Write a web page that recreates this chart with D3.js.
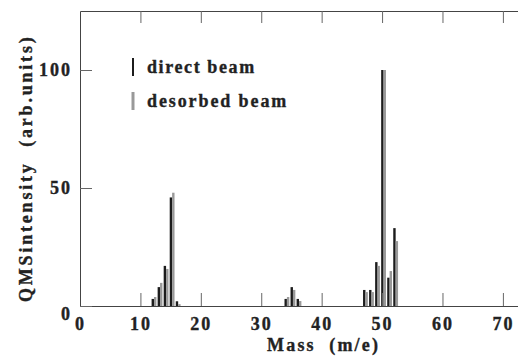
<!DOCTYPE html>
<html>
<head>
<meta charset="utf-8">
<script src="https://cdn.jsdelivr.net/npm/d3@7"></script>
<style>
    body { margin: 0; background: #fff; }
    text { font-family: "Liberation Serif", "DejaVu Serif", serif; font-weight: bold; fill: #222; stroke: #222; stroke-width: 0.35px; }
</style>
</head>
<body>
<svg id="chart"></svg>
<script>
// mass peaks (m/e) and intensities
var masses = [12, 13, 14, 15, 16, 34, 35, 36, 47, 48, 49, 50, 51, 52];
var directBeam = [3, 8, 17, 46, 2, 3, 8, 3, 6.8, 6.8, 18.6, 100, 12, 33];
var desorbedBeam = [3.8, 9.8, 15.7, 48, 0.8, 3.8, 6.8, 2.1, 5.9, 5.9, 17, 100, 14.8, 27.5];

var xTicks = [0, 10, 20, 30, 40, 50, 60, 70];
var yTicks = [0, 50, 100];
var seriesNames = ["direct beam", "desorbed beam"];
var seriesColors = ["#1c1c1c", "#999999"];

var width = 518,
    height = 356;

var x = d3.scaleLinear().domain([0, 72.5]).range([80, 518]);
var y = d3.scaleLinear().domain([0, 125]).range([306, 11]);

var svg = d3.select('#chart')
    .attr('width', width)
    .attr('height', height);

// bars, black then gray side by side at each mass
var barW = 2.4;
svg.append('g').selectAll('rect.direct')
    .data(masses).enter()
    .append('rect')
    .attr('x', function (d) { return x(d) - 0.9; })
    .attr('y', function (d, i) { return y(directBeam[i]); })
    .attr('width', barW)
    .attr('height', function (d, i) { return y(0) - y(directBeam[i]); })
    .attr('fill', seriesColors[0]);

svg.append('g').selectAll('rect.desorbed')
    .data(masses).enter()
    .append('rect')
    .attr('x', function (d) { return x(d) + 1.5; })
    .attr('y', function (d, i) { return y(desorbedBeam[i]); })
    .attr('width', barW)
    .attr('height', function (d, i) { return y(0) - y(desorbedBeam[i]); })
    .attr('fill', seriesColors[1]);

// axes, ticks pointing inward
function styleAxis(g) {
    g.select('.domain').attr('stroke', '#444');
    g.selectAll('.tick line').attr('stroke', '#666');
    g.selectAll('.tick text')
        .style('font-size', '18px')
        .style('letter-spacing', '2px')
        .attr('fill', '#222');
}

svg.append('g')
    .attr('transform', 'translate(0,' + y(0) + ')')
    .call(d3.axisBottom(x).tickValues(xTicks).tickSize(-13).tickSizeOuter(0).tickPadding(11))
    .call(styleAxis);

svg.append('g')
    .attr('transform', 'translate(0,' + y(125) + ')')
    .call(d3.axisTop(x).tickValues(xTicks.slice(1)).tickSize(-12).tickSizeOuter(0).tickFormat(''))
    .call(styleAxis);

var yAxis = svg.append('g')
    .attr('transform', 'translate(' + x(0) + ',0)')
    .call(d3.axisLeft(y).tickValues(yTicks).tickSize(-12).tickSizeOuter(0).tickPadding(8))
    .call(styleAxis);
// the zero label sits a little below its tick in the original
yAxis.selectAll('.tick text').filter(function (d) { return d === 0; })
    .attr('dy', '0.75em');

// legend
var legend = svg.append('g');
seriesNames.forEach(function (name, i) {
    var ly = 58 + i * 34;
    legend.append('line')
        .attr('x1', 133).attr('x2', 133)
        .attr('y1', ly).attr('y2', ly + 18)
        .attr('stroke', seriesColors[i])
        .attr('stroke-width', i == 0 ? 2 : 3);
    legend.append('text')
        .attr('x', 147)
        .attr('y', ly + 15)
        .style('font-size', '18px')
        .style('letter-spacing', i == 0 ? '1.6px' : '1.9px')
        .text(name);
});

// axis titles
svg.append('text')
    .attr('x', 267)
    .attr('y', 351)
    .style('font-size', '18px')
    .style('letter-spacing', '2.2px')
    .style('white-space', 'pre')
    .text('Mass  (m/e)');

svg.append('text')
    .attr('transform', 'translate(32,302) rotate(-90)')
    .style('font-size', '18px')
    .style('letter-spacing', '2.8px')
    .style('white-space', 'pre')
    .text('QMSintensity  (arb.units)');
</script>
</body>
</html>
